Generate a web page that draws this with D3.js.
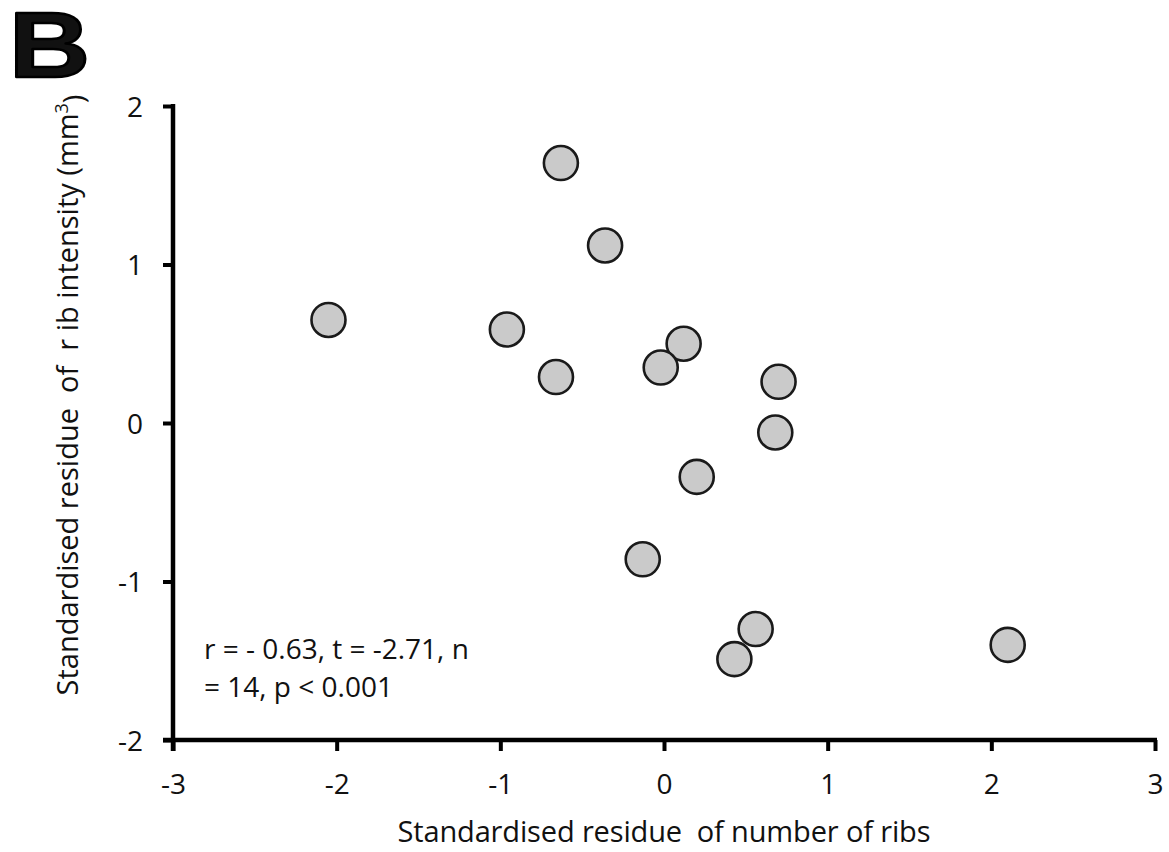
<!DOCTYPE html>
<html>
<head>
<meta charset="utf-8">
<script src="https://cdn.jsdelivr.net/npm/d3@7"></script>
<style>
  body { margin: 0; background: #fff; }
  text { font-family: "Open Sans", "Noto Sans", sans-serif; fill: #111; white-space: pre; }
</style>
</head>
<body>
<div id="graph"></div>
<script>
// residuals
var residRibs = [-0.63, -0.36, -2.05, -0.96, -0.66, 0.12, -0.02, 0.70, 0.68, 0.20, -0.13, 0.56, 0.43, 2.10];
var residIntensity = [1.64, 1.12, 0.65, 0.59, 0.29, 0.50, 0.35, 0.26, -0.06, -0.34, -0.86, -1.30, -1.49, -1.40];
var xTicks = [-3, -2, -1, 0, 1, 2, 3];
var yTicks = [-2, -1, 0, 1, 2];
var statLines = ["r = - 0.63, t = -2.71, n", "= 14, p < 0.001"];

var W = 1169, H = 852;
var margin = {top: 106, right: 14, bottom: 112, left: 173},
    width = W - margin.left - margin.right,
    height = H - margin.top - margin.bottom;

var root = d3.select('#graph').append("svg")
    .attr("width", W)
    .attr("height", H);

var svg = root.append("g")
    .attr("transform", "translate(" + margin.left + "," + margin.top + ")");

var x = d3.scaleLinear().domain([-3, 3]).range([0, 982]);
var y = d3.scaleLinear().domain([-2, 2]).range([634, 0]);

// plain hyphen for negatives, like the original
var fmt = function (d) { return String(d); };

// x axis
var xAxis = svg.append("g")
    .attr("transform", "translate(0," + y(-2) + ")")
    .call(d3.axisBottom(x).tickValues(xTicks).tickSize(11).tickPadding(18).tickFormat(fmt));
// y axis
var yAxis = svg.append("g")
    .call(d3.axisLeft(y).tickValues(yTicks).tickSize(10).tickPadding(20).tickFormat(fmt));

[xAxis, yAxis].forEach(function (a) {
    a.select(".domain").remove();
    a.selectAll("line").attr("stroke", "#000").attr("stroke-width", 4);
    a.selectAll("text")
        .style("font-size", "28px")
        .style("font-family", '"Open Sans", sans-serif')
        .attr("fill", "#111");
});
yAxis.selectAll("text").attr("dy", "0.36em");
xAxis.selectAll("text").attr("dy", "0.9em");

// axis lines drawn thick, like the original
svg.append("line")
    .attr("x1", x(-3) - 10).attr("x2", x(3) + 2)
    .attr("y1", y(-2)).attr("y2", y(-2))
    .attr("stroke", "#000").attr("stroke-width", 4.5);
svg.append("line")
    .attr("x1", x(-3)).attr("x2", x(-3))
    .attr("y1", y(2) - 2).attr("y2", y(-2) + 11)
    .attr("stroke", "#000").attr("stroke-width", 4.5);

// points
var pts = residRibs.map(function (d, i) { return {x: d, y: residIntensity[i]}; });
svg.selectAll("circle")
    .data(pts)
    .enter().append("circle")
    .attr("cx", function (d) { return x(d.x); })
    .attr("cy", function (d) { return y(d.y); })
    .attr("r", 17)
    .attr("fill", "#cacaca")
    .attr("stroke", "#1a1a1a")
    .attr("stroke-width", 2.6);

// stats text
svg.append("g").selectAll("text")
    .data(statLines)
    .enter().append("text")
    .attr("x", 31)
    .attr("y", function (d, i) { return 553 + i * 38; })
    .style("font-size", "28px")
    .text(function (d) { return d; });

// axis titles
root.append("text")
    .attr("x", margin.left + x(0))
    .attr("y", 842)
    .attr("text-anchor", "middle")
    .style("font-size", "29px")
    .attr("textLength", 533)
    .text("Standardised residue  of number of ribs");

var yt = root.append("text")
    .attr("transform", "translate(78,395) rotate(-90)")
    .attr("text-anchor", "middle")
    .style("font-size", "29px");
yt.append("tspan").text("Standardised residue  of  r ib intensity (mm");
yt.append("tspan").attr("dy", "-0.55em").style("font-size", "18px").text("3");
yt.append("tspan").attr("dy", "0.55em").text(")");

// panel letter
root.append("text")
    .attr("transform", "translate(9,77) scale(1.22,1)")
    .style("font-size", "92px")
    .style("font-weight", "bold")
    .style("font-family", '"Liberation Sans", Arial, sans-serif')
    .attr("fill", "#000")
    .attr("stroke", "#000")
    .attr("stroke-width", 2.5)
    .attr("stroke-linejoin", "round")
    .text("B");
</script>
</body>
</html>
